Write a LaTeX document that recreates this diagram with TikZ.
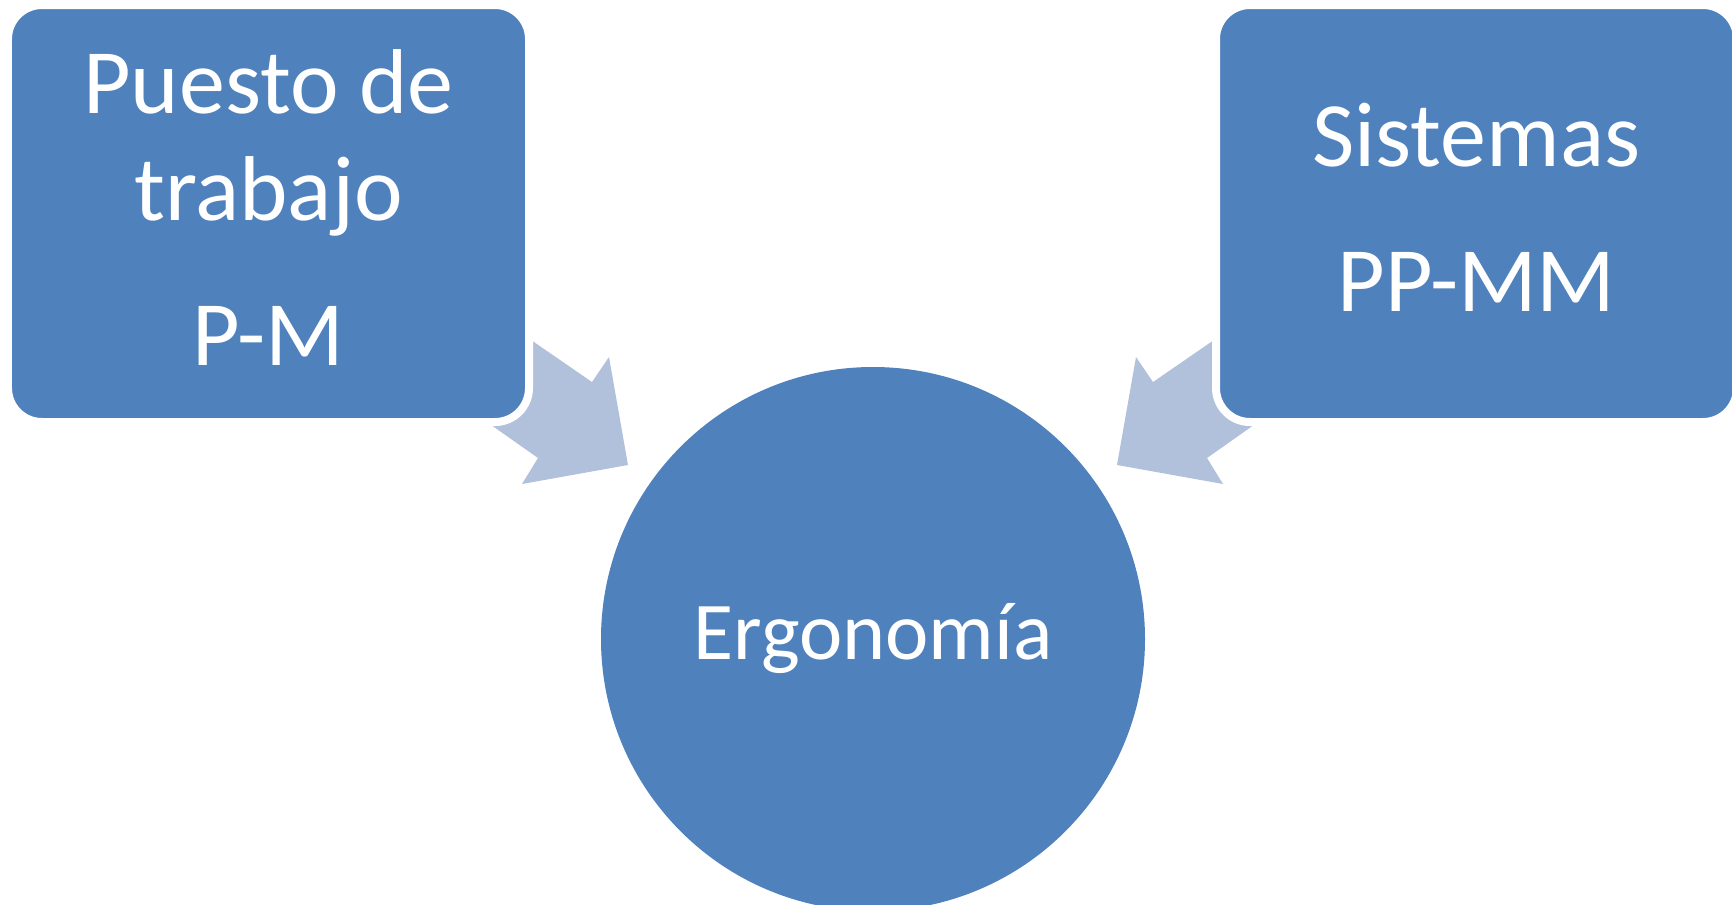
\documentclass[tikz,border=0pt]{standalone}
\usepackage{fontspec}
\setmainfont{Carlito}

\definecolor{boxblue}{RGB}{79,129,189}
\definecolor{arrowblue}{RGB}{178,193,219}

\begin{document}
\begin{tikzpicture}[x=0.2mm, y=-0.2mm,
    topbox/.style={rectangle, rounded corners=6.8mm, fill=boxblue, draw=white,
        line width=1.6mm, minimum width=104.2mm, minimum height=83.4mm,
        align=center, text=white, text depth=2.4mm,
        font=\fontsize{52.4}{60.9}\selectfont},
    hub/.style={circle, fill=boxblue, inner sep=0pt, minimum size=108.8mm,
        text=white, font=\fontsize{46.7}{56}\selectfont}
]
    % page of 1732 x 904 px, 1 px = 0.2 mm, y runs down
    \clip (0,0) rectangle (1732,904);
    % block arrows first: the boxes hide their tails
    \fill[arrowblue] (470,298) -- (592,382) -- (609,357) -- (628,465)
        -- (522,484) -- (538,458) -- (413,370) -- cycle;
    \fill[arrowblue] (1275,298) -- (1153,382) -- (1136,357) -- (1117,465)
        -- (1223,484) -- (1207,458) -- (1332,370) -- cycle;
    \node[topbox] (puesto) at (268.5,213.5) {Puesto de\\trabajo\\[21.6pt]P-M};
    \node[topbox] (sistemas) at (1476.5,213.5) {Sistemas\\[21.6pt]PP-MM};
    \node[hub] (ergo) at (873,639) {Ergonomía};
\end{tikzpicture}
\end{document}
